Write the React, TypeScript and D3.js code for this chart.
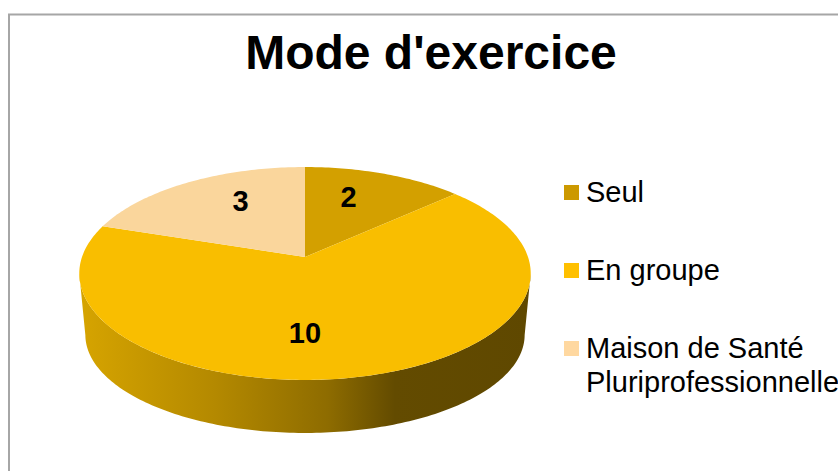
import { useMemo } from "react";
import * as d3 from "d3";

const categories = ["Seul", "En groupe", "Maison de Santé Pluriprofessionnelle"];
const legendLines = [["Seul"], ["En groupe"], ["Maison de Santé", "Pluriprofessionnelle"]];
const values = [2, 10, 3];
const topColors = ["#d3a000", "#f9be00", "#fad69c"];
const legendColors = ["#cc9900", "#ffc000", "#ffd8a0"];
const title = "Mode d'exercice";

const W = 838;
const H = 471;
const FONT = "'Liberation Sans', Arial, Helvetica, sans-serif";

// perspective projection of the pie disc
const K = -0.155;
const CX = 305;
const TOP = { r: 223, y0: 257, ry: 103.9 };
const BOT = { r: 217, y0: 319.7, ry: 95.7 };

function project(a: number, r: number, disc: typeof TOP): [number, number] {
  const u = r * Math.sin(a);
  const v = -r * Math.cos(a);
  const d = 1 + K * v;
  return [CX + (disc.r * u) / d, disc.y0 + (disc.ry * v) / d];
}

function rim(a0: number, a1: number, disc: typeof TOP) {
  const n = Math.max(2, Math.ceil(((a1 - a0) * 180) / Math.PI));
  return d3.range(n + 1).map((i) => project(a0 + ((a1 - a0) * i) / n, 1, disc));
}

export default function App() {
  const arcs = useMemo(
    () =>
      d3
        .pie<number>()
        .sort(null)
        .startAngle(0)
        .endAngle(2 * Math.PI)(values),
    [],
  );

  const line = d3.line();

  // silhouette of the side wall (tangent points of the projected ellipse)
  const aS = Math.acos(K);
  const sideTop = rim(aS, 2 * Math.PI - aS, TOP);
  const sideBot = rim(aS, 2 * Math.PI - aS, BOT).reverse();
  const sidePath = line([...sideTop, ...sideBot]) + "Z";

  const apex = project(0, 0, TOP);

  return (
    <svg
      width={W}
      height={H}
      style={{ position: "absolute", left: 0, top: 0, background: "#fff" }}
    >
      <defs>
        <linearGradient id="side" gradientUnits="userSpaceOnUse" x1={80} x2={530} y1={0} y2={0}>
          <stop offset="0" stopColor="#d6a400" />
          <stop offset="0.3" stopColor="#b48900" />
          <stop offset="0.55" stopColor="#8e6c00" />
          <stop offset="0.7" stopColor="#634b00" />
          <stop offset="1" stopColor="#5f4800" />
        </linearGradient>
      </defs>
      <rect x={9} y={14.5} width={W} height={H} fill="none" stroke="#a6a6a6" strokeWidth={2} />
      <text
        x={431}
        y={69}
        textAnchor="middle"
        fontFamily={FONT}
        fontWeight="bold"
        fontSize={48}
        fill="#000"
      >
        {title}
      </text>

      <path d={sidePath} fill="url(#side)" />
      {arcs.map((d, i) => {
        const pts = [apex, ...rim(d.startAngle, d.endAngle, TOP)];
        return <path key={categories[i]} d={line(pts) + "Z"} fill={topColors[i]} />;
      })}
      {arcs.map((d, i) => {
        const coversFront = d.startAngle < Math.PI && d.endAngle > Math.PI;
        let mid = (d.startAngle + d.endAngle) / 2;
        if (mid > Math.PI) mid -= 2 * Math.PI;
        // labels of the back slices sit a little closer to the top
        const a = coversFront ? Math.PI : mid * 0.78;
        const [x, y] = project(a, coversFront ? 0.65 : 0.67, TOP);
        return (
          <text
            key={"l" + i}
            x={x}
            y={y}
            dy="0.36em"
            textAnchor="middle"
            fontFamily={FONT}
            fontWeight="bold"
            fontSize={29}
            fill="#000"
          >
            {values[i]}
          </text>
        );
      })}

      {legendLines.map((lines, i) => {
        const y = 202 + i * 78;
        return (
          <g key={"g" + i}>
            <rect x={564} y={y - 17} width={15} height={15} fill={legendColors[i]} />
            {lines.map((t, j) => (
              <text
                key={j}
                x={586}
                y={y + j * 34}
                fontFamily={FONT}
                fontSize={29}
                fill="#000"
              >
                {t}
              </text>
            ))}
          </g>
        );
      })}
    </svg>
  );
}
